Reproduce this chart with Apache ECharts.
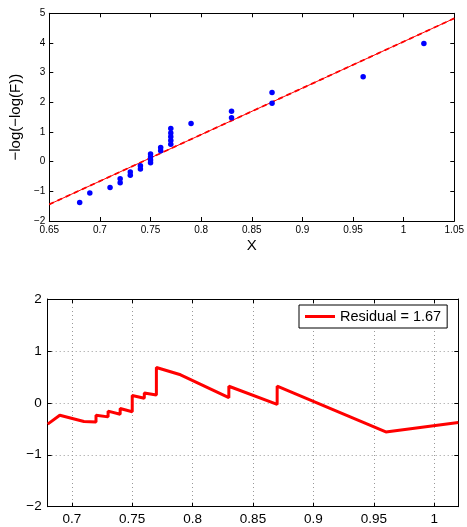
<!DOCTYPE html>
<html>
<head>
<meta charset="utf-8">
<script src="https://cdn.jsdelivr.net/npm/echarts@6/dist/echarts.min.js"></script>
<style>
html,body{margin:0;padding:0;background:#fff;}
#chart{width:467px;height:527px;}
</style>
</head>
<body>
<div id="chart"></div>
<script>
// ---- data ----
const scatterX = [0.68,0.69,0.71,0.72,0.72,0.73,0.73,0.74,0.74,0.75,0.75,0.75,0.75,0.76,0.76,0.77,0.77,0.77,0.77,0.77,0.79,0.83,0.83,0.87,0.87,0.96,1.02];
const scatterY = [-1.38,-1.06,-0.87,-0.71,-0.58,-0.46,-0.35,-0.25,-0.14,-0.04,0.06,0.16,0.26,0.37,0.48,0.59,0.71,0.84,0.97,1.12,1.29,1.48,1.70,1.97,2.33,2.86,3.98];
const fitX = [0.65, 1.05];
const fitY = [-1.44, 4.83];
const resX = [0.68,0.69,0.71,0.72,0.72,0.73,0.73,0.74,0.74,0.75,0.75,0.76,0.76,0.77,0.77,0.79,0.83,0.83,0.87,0.87,0.96,1.02];
const resY = [-0.41,-0.24,-0.36,-0.37,-0.24,-0.27,-0.16,-0.22,-0.11,-0.17,0.14,0.09,0.19,0.15,0.68,0.54,0.10,0.32,-0.03,0.32,-0.56,-0.38];
const residualLabel = 'Residual = 1.67';
const bottomXTicks = [0.7,0.75,0.8,0.85,0.9,0.95,1.0];
const yLabelTop = '\u2212log(\u2212log(F))';
const xLabelTop = 'X';

// ---- helpers ----
const fmt = v => String(+(+v).toFixed(2)).replace('-', '\u2212');
const zip = (a, b) => a.map((v, i) => [v, b[i]]);
const FONT = 'Liberation Sans';

const chart = echarts.init(document.getElementById('chart'), null, {renderer: 'canvas'});

const axisLine = {show: true, onZero: false, lineStyle: {color: '#000', width: 1}};
const tickIn = {show: true, inside: true, length: 4, lineStyle: {color: '#000', width: 1}};

const option = {
  animation: false,
  backgroundColor: '#fff',
  grid: [
    {left: 47.7, right: 8.7, top: 13.3, height: 207.7, containLabel: false},
    {left: 47.7, right: 8.7, top: 299, height: 207.7, containLabel: false}
  ],
  legend: {
    data: [residualLabel],
    left: 299, top: 305,
    padding: [4, 6, 4, 6],
    borderColor: '#000', borderWidth: 1,
    backgroundColor: '#fff',
    icon: 'rect', itemWidth: 30, itemHeight: 3,
    textStyle: {fontFamily: FONT, fontSize: 14.5, color: '#000'}
  },
  xAxis: [
    {gridIndex: 0, type: 'value', min: 0.65, max: 1.05, interval: 0.05, position: 'bottom',
     name: xLabelTop, nameLocation: 'middle', nameGap: 17,
     nameTextStyle: {fontFamily: FONT, fontSize: 15, color: '#000'},
     axisLine, axisTick: tickIn, splitLine: {show: false},
     axisLabel: {fontFamily: FONT, fontSize: 10, color: '#000', margin: 4, formatter: fmt}},
    {gridIndex: 0, type: 'value', min: 0.65, max: 1.05, interval: 0.05, position: 'top',
     axisLine, axisTick: tickIn, splitLine: {show: false}, axisLabel: {show: false}},
    {gridIndex: 1, type: 'value', min: 0.68, max: 1.02, position: 'bottom',
     axisLine, axisTick: Object.assign({}, tickIn, {customValues: bottomXTicks}),
     splitLine: {show: true, lineStyle: {color: '#999', width: 1, type: [1, 3]}},
     axisLabel: {fontFamily: FONT, fontSize: 13.5, color: '#000', margin: 6, formatter: fmt, customValues: bottomXTicks}},
    {gridIndex: 1, type: 'value', min: 0.68, max: 1.02, position: 'top',
     axisLine, axisTick: Object.assign({}, tickIn, {customValues: bottomXTicks}),
     splitLine: {show: false}, axisLabel: {show: false, customValues: bottomXTicks}}
  ],
  yAxis: [
    {gridIndex: 0, type: 'value', min: -2, max: 5, interval: 1, position: 'left',
     name: yLabelTop, nameLocation: 'middle', nameGap: 20, nameRotate: 90,
     nameTextStyle: {fontFamily: FONT, fontSize: 15, color: '#000'},
     axisLine, axisTick: tickIn, splitLine: {show: false},
     axisLabel: {fontFamily: FONT, fontSize: 10, color: '#000', margin: 4, formatter: fmt}},
    {gridIndex: 0, type: 'value', min: -2, max: 5, interval: 1, position: 'right',
     axisLine, axisTick: tickIn, splitLine: {show: false}, axisLabel: {show: false}},
    {gridIndex: 1, type: 'value', min: -2, max: 2, interval: 1, position: 'left',
     axisLine, axisTick: tickIn,
     splitLine: {show: true, lineStyle: {color: '#999', width: 1, type: [1, 3]}},
     axisLabel: {fontFamily: FONT, fontSize: 13.5, color: '#000', margin: 6, formatter: fmt}},
    {gridIndex: 1, type: 'value', min: -2, max: 2, interval: 1, position: 'right',
     axisLine, axisTick: tickIn, splitLine: {show: false}, axisLabel: {show: false}}
  ],
  series: [
    {type: 'line', xAxisIndex: 0, yAxisIndex: 0, data: zip(fitX, fitY), symbol: 'none',
     lineStyle: {color: '#ff0000', width: 1}, silent: true, z: 2},
    {type: 'line', xAxisIndex: 0, yAxisIndex: 0, data: zip(fitX, fitY), symbol: 'none',
     lineStyle: {color: '#ff0000', width: 1.8, type: [5, 4]}, silent: true, z: 3},
    {type: 'scatter', xAxisIndex: 0, yAxisIndex: 0, data: zip(scatterX, scatterY),
     symbol: 'circle', symbolSize: 5.5, itemStyle: {color: '#0000ff', opacity: 1}, z: 4},
    {name: residualLabel, type: 'line', xAxisIndex: 2, yAxisIndex: 2, data: zip(resX, resY),
     symbol: 'none', lineStyle: {color: '#ff0000', width: 3}, itemStyle: {color: '#ff0000'}, z: 4}
  ]
};
chart.setOption(option);
</script>
</body>
</html>
